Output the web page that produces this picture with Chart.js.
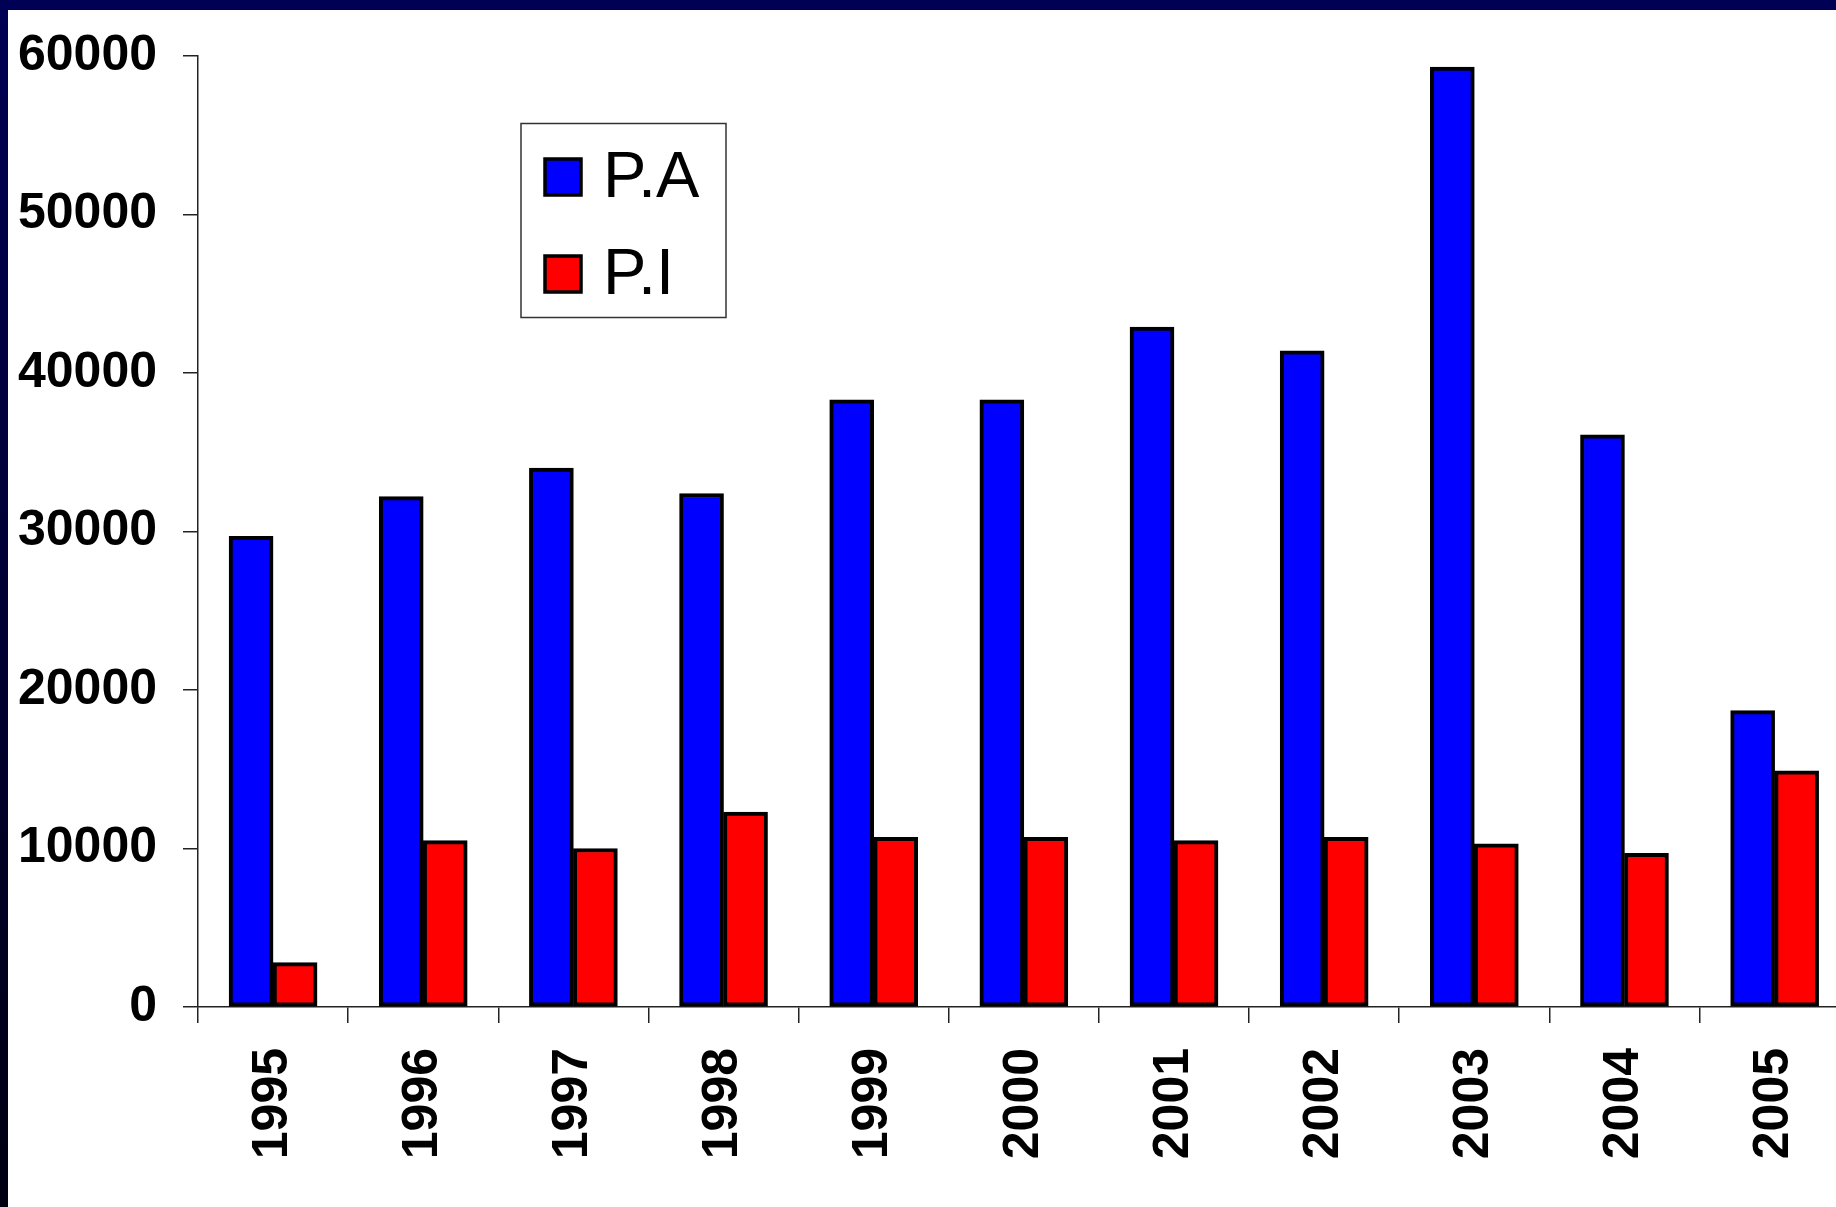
<!DOCTYPE html>
<html>
<head>
  <meta charset="utf-8">
  <script src="https://cdn.jsdelivr.net/npm/chart.js"></script>
  <title>P.A / P.I</title>
  <style>
    html, body { margin: 0; padding: 0; background: #fff; overflow: hidden; }
    #wrap { position: absolute; left: 0; top: 0; width: 1836px; height: 1207px; overflow: hidden; }
    #chart { position: absolute; left: 0; top: 0; }
    .frame-top { position: absolute; left: 0; top: 0; width: 1836px; height: 10px; background: #000055; }
    .frame-left { position: absolute; left: 0; top: 0; width: 8px; height: 1207px;
                  background: linear-gradient(#000055, #000038 45%, #000012); }
  </style>
</head>
<body>
<div id="wrap">
  <canvas id="chart" width="1860" height="1207"></canvas>
  <div class="frame-top"></div>
  <div class="frame-left"></div>
</div>

<script>
// données
const years = ['1995', '1996', '1997', '1998', '1999', '2000', '2001', '2002', '2003', '2004', '2005'];
const paValues = [29700, 32200, 34000, 32400, 38300, 38300, 42900, 41400, 59300, 36100, 18700];
const piValues = [2800, 10500, 10000, 12300, 10700, 10700, 10500, 10700, 10300, 9700, 14900];
const seriesNames = ['P.A', 'P.I'];
const seriesColors = ['#0000ff', '#ff0000'];

const FONT = "'Liberation Sans', Arial, sans-serif";

// légende encadrée dans la zone du graphique
const boxLegend = {
  id: 'boxLegend',
  afterDraw(chart) {
    const ctx = chart.ctx;
    ctx.save();
    ctx.strokeStyle = '#333';
    ctx.lineWidth = 1.5;
    ctx.strokeRect(521, 123.5, 205, 194);
    chart.data.datasets.forEach((ds, i) => {
      const y = 158 + i * 97;
      ctx.fillStyle = ds.backgroundColor;
      ctx.fillRect(545, y + 1, 36, 36);
      ctx.strokeStyle = '#000';
      ctx.lineWidth = 3.5;
      ctx.strokeRect(545, y + 1, 36, 36);
      ctx.fillStyle = '#000';
      ctx.font = '65px ' + FONT;
      ctx.textBaseline = 'middle';
      ctx.textAlign = 'left';
      ctx.fillText(ds.label, 603, y + 21);
    });
    ctx.restore();
  }
};

new Chart(document.getElementById('chart'), {
  type: 'bar',
  data: {
    labels: years,
    datasets: [
      { label: seriesNames[0], data: paValues, backgroundColor: seriesColors[0] },
      { label: seriesNames[1], data: piValues, backgroundColor: seriesColors[1] }
    ]
  },
  options: {
    responsive: false,
    animation: false,
    devicePixelRatio: 1,
    layout: { padding: { top: 54, right: 8, left: 0, bottom: 0 } },
    datasets: {
      bar: {
        borderColor: '#000',
        borderWidth: 4,
        borderSkipped: false,
        barThickness: 44
      }
    },
    plugins: {
      legend: { display: false },
      tooltip: { enabled: false }
    },
    scales: {
      x: {
        afterFit(scale) { scale.height = 200; },
        grid: { offset: true, drawOnChartArea: false, drawTicks: true, tickLength: 16, color: '#222', lineWidth: 1.5 },
        border: { display: true, color: '#222', width: 1.5 },
        ticks: {
          autoSkip: false,
          minRotation: 90,
          maxRotation: 90,
          padding: 25,
          color: '#000',
          font: { family: FONT, size: 50, weight: 'bold' }
        }
      },
      y: {
        min: 0,
        max: 60000,
        afterFit(scale) { scale.width = 198; },
        grid: { drawOnChartArea: false, drawTicks: true, tickLength: 15, color: '#222', lineWidth: 1.5 },
        border: { display: true, color: '#222', width: 1.5 },
        ticks: {
          stepSize: 10000,
          padding: 26,
          color: '#000',
          font: { family: FONT, size: 50, weight: 'bold' },
          callback: v => String(v)
        }
      }
    }
  },
  plugins: [boxLegend]
});
</script>
</body>
</html>
